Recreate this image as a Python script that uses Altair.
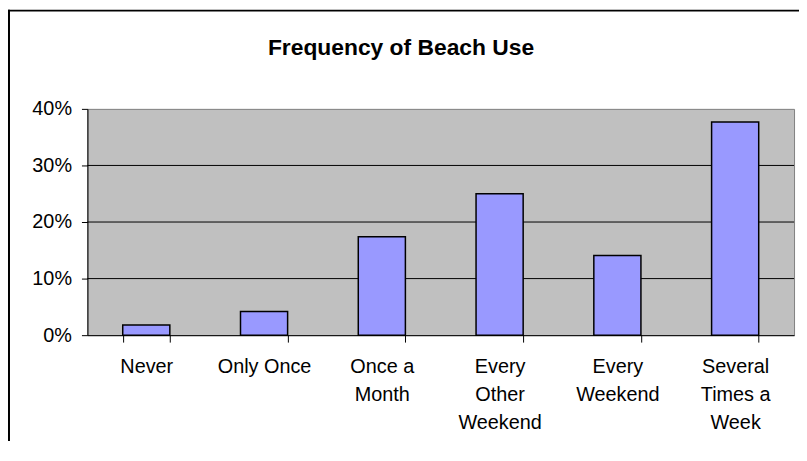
import json
import altair as alt
import pandas as pd

# ---- data ----
categories = ["Never", "Only Once", "Once a Month", "Every Other Weekend",
              "Every Weekend", "Several Times a Week"]
label_lines = [["Never"], ["Only Once"], ["Once a", "Month"],
               ["Every", "Other", "Weekend"], ["Every", "Weekend"],
               ["Several", "Times a", "Week"]]
values = [0.018, 0.042, 0.174, 0.250, 0.141, 0.377]
y_ticks = [0.0, 0.1, 0.2, 0.3, 0.4]
grid_values = [0.1, 0.2, 0.3]
title_text = "Frequency of Beach Use"

FONT = "Liberation Sans"

df = pd.DataFrame({"category": categories, "value": values})
grid_df = pd.DataFrame({"g": grid_values})
title_df = pd.DataFrame({"t": [title_text]})
one = pd.DataFrame({"k": [0]})

label_expr = "{}[indexof({}, datum.label)]".format(
    json.dumps(label_lines), json.dumps(categories))

yscale = alt.Scale(domain=[0, 0.4], nice=False)
yaxis = alt.Axis(
    title=None, values=y_ticks, format=".0%", grid=False,
    domainColor="black", tickColor="black", tickSize=6,
    labelFont=FONT, labelFontSize=20, labelColor="black",
    labelPadding=10, domainWidth=1,
)

grid = alt.Chart(grid_df).mark_rule(color="black", strokeWidth=1).encode(
    y=alt.Y("g:Q", scale=yscale, axis=yaxis)
)

bars = alt.Chart(df).mark_bar(
    fill="#9999FF", stroke="black", strokeWidth=1.5
).encode(
    x=alt.X(
        "category:N", sort=categories,
        scale=alt.Scale(paddingInner=0.6, paddingOuter=0.3),
        axis=alt.Axis(
            title=None, labelAngle=0, labelExpr=label_expr,
            tickBand="extent", domainColor="black", tickColor="black",
            tickSize=7, labelFont=FONT, labelFontSize=20, labelColor="black",
            labelPadding=15, labelLineHeight=28, labelBaseline="top",
            domainWidth=1,
        ),
    ),
    y=alt.Y("value:Q", scale=yscale, axis=yaxis),
)

title = alt.Chart(title_df).mark_text(
    font=FONT, fontSize=23, fontWeight="bold", color="black",
    align="center", baseline="alphabetic",
).encode(x=alt.value(316), y=alt.value(-54), text="t:N")

border_top = alt.Chart(one).mark_rule(color="black", strokeWidth=2).encode(
    x=alt.value(-80), x2=alt.value(720), y=alt.value(-99)
)
border_left = alt.Chart(one).mark_rule(color="black", strokeWidth=2).encode(
    x=alt.value(-79), y=alt.value(-100), y2=alt.value(360)
)

chart = alt.layer(grid, bars, title, border_top, border_left).properties(
    width=712,
    height=228,
    padding={"left": 80, "top": 100, "right": 5, "bottom": 105},
    autosize=alt.AutoSizeParams(type="none"),
    background="white",
).configure_view(
    fill="#C0C0C0", stroke="#808080", strokeWidth=1
)

chart.save("out.html", embed_options={"renderer": "svg", "actions": False})
